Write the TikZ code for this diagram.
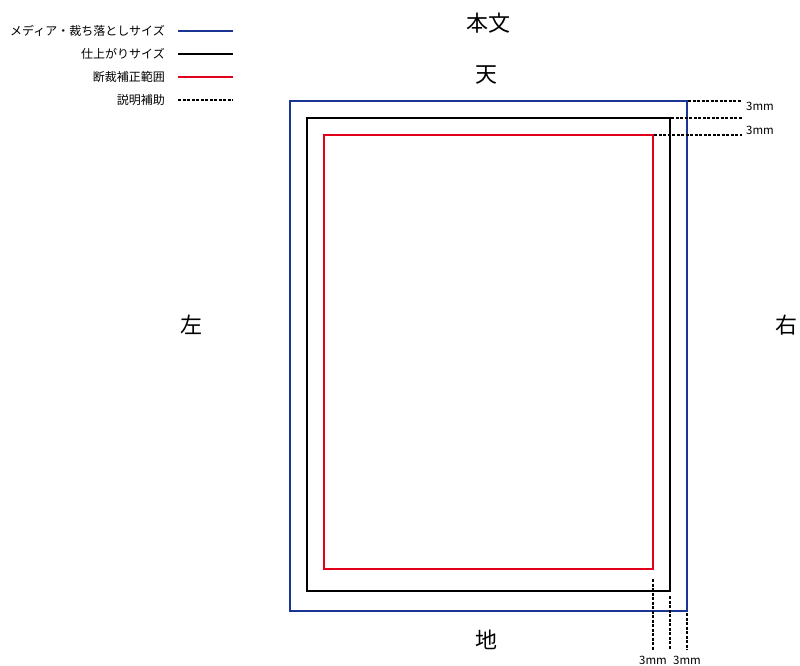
\documentclass[tikz,border=0pt]{standalone}
\usepackage{fontspec}
\setmainfont{Noto Sans CJK JP}
\begin{document}
\begin{tikzpicture}[x=1pt,y=-1pt,
  big/.style={font=\fontsize{22}{24}\selectfont, inner sep=0pt},
  small/.style={font=\fontsize{11.5}{13}\selectfont, inner sep=0pt},
  legtext/.style={font=\fontsize{12}{14}\selectfont, inner sep=0pt, anchor=east},
  guide/.style={line width=1.6pt, dash pattern=on 3pt off 1.5pt},
  mediac/.style={draw=navy, line width=1.6pt},
  trimc/.style={draw=black, line width=1.6pt},
  safec/.style={draw=redc, line width=1.6pt}]
\definecolor{navy}{HTML}{1A3594}
\definecolor{redc}{HTML}{E2001A}
\useasboundingbox (0,0) rectangle (800,665);
% legend
\node[legtext] (l1) at (165,31) {メディア・裁ち落としサイズ};
\node[legtext] (l2) at (165,54) {仕上がりサイズ};
\node[legtext] (l3) at (165,77) {断裁補正範囲};
\node[legtext] (l4) at (165,100) {説明補助};
\coordinate (a1) at (178,31); \coordinate (b1) at (233,31);
\coordinate (a2) at (178,54); \coordinate (b2) at (233,54);
\coordinate (a3) at (178,77); \coordinate (b3) at (233,77);
\coordinate (a4) at (178,100); \coordinate (b4) at (233,100);
\draw[draw=navy, line width=1.6pt] (a1) -- (b1);
\draw[line width=1.6pt] (a2) -- (b2);
\draw[draw=redc, line width=1.6pt] (a3) -- (b3);
\draw[guide] (a4) -- (b4);
% labels
\node[big] (honbun) at (488,23) {本文};
\node[big] (ten) at (486,75) {天};
\node[big] (hidari) at (191,325) {左};
\node[big] (migi) at (786,325) {右};
\node[big] (chi) at (486,640) {地};
% rectangles
\draw[mediac] (290,101) rectangle (687,611);
\draw[trimc] (307,118) rectangle (670,591);
\draw[safec] (324,135) rectangle (653,569);
% horizontal guides
\coordinate (h1s) at (688,101); \coordinate (h1e) at (742,101);
\coordinate (h2s) at (671,118); \coordinate (h2e) at (742,118);
\coordinate (h3s) at (654,135); \coordinate (h3e) at (742,135);
\draw[guide] (h1s) -- (h1e);
\draw[guide] (h2s) -- (h2e);
\draw[guide] (h3s) -- (h3e);
\node[small, anchor=west] (m1) at (746,106) {3mm};
\node[small, anchor=west] (m2) at (746,130) {3mm};
% vertical guides
\coordinate (v1s) at (653,579); \coordinate (v1e) at (653,650);
\coordinate (v2s) at (670,596); \coordinate (v2e) at (670,650);
\coordinate (v3s) at (687,613); \coordinate (v3e) at (687,650);
\draw[guide] (v1s) -- (v1e);
\draw[guide] (v2s) -- (v2e);
\draw[guide] (v3s) -- (v3e);
\node[small] (m3) at (653,660) {3mm};
\node[small] (m4) at (687,660) {3mm};
\end{tikzpicture}
\end{document}
